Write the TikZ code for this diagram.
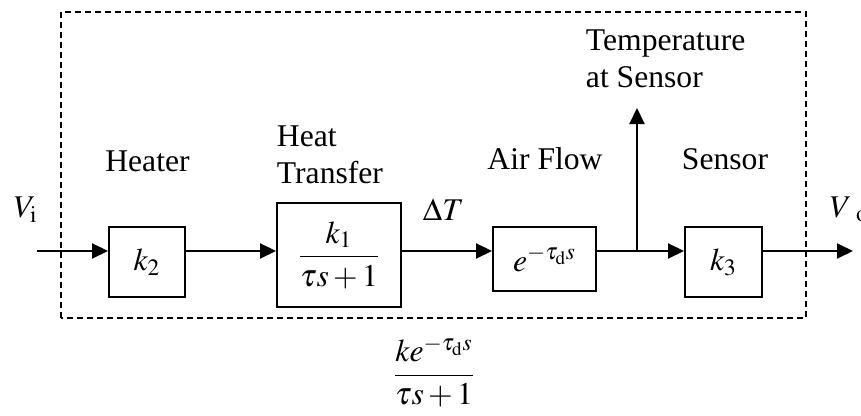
\documentclass[tikz,border=0pt]{standalone}
\usepackage{amsmath}
\usepackage{mathptmx}
\usepackage{fontspec}
\setmainfont{Liberation Serif}
\usetikzlibrary{arrows.meta, positioning, calc}
\definecolor{cline}{HTML}{000000}
\tikzset{
  every picture/.style={font=\fontsize{18}{21}\selectfont, line width=1.1pt},
  blk/.style={draw=cline, minimum width=#1, minimum height=1.4cm, inner sep=0pt},
  blk/.default=1.52cm,
  arrow/.style={-{Triangle[length=0.32cm, width=0.3cm]}, draw=cline, line width=1.1pt},
  wire/.style={draw=cline, line width=1.1pt},
  label/.style={anchor=base, inner sep=0pt},
  frame/.style={draw=cline, dash pattern=on 0.12cm off 0.08cm, line width=1.1pt},
}

\begin{document}
\begin{tikzpicture}
  \useasboundingbox (0,0) rectangle (17.22,8.3);
  % dashed outline of the plant
  \draw[frame] (1.22,1.94) rectangle (16.12,8.06);
  % blocks
  \node[blk] (heater) at (2.94,3.06) {$k_2$};
  \node[blk=2.48cm, minimum height=2.08cm] (transfer) at (6.78,3.2) {$\dfrac{k_1}{\tau s+1}$};
  \node[blk=2.06cm, minimum height=1.28cm] (airflow) at (10.89,3.12) {$e^{-\tau_{\mathrm{d}}s}$};
  \node[blk=1.54cm] (sensor) at (14.47,3.06) {$k_3$};
  \coordinate (vin) at (0.74,3.28);
  \coordinate (tap) at (12.74,3.28);
  \coordinate (tsens) at (12.74,6.14);
  \coordinate (vout) at (17.06,3.28);
  % labels
  \node[label] (lheater) at (2.95,4.88) {Heater};
  \node[label, anchor=base west] (lheat) at (5.52,5.38) {Heat};
  \node[label, anchor=base west] (ltransfer) at (5.52,4.64) {Transfer};
  \node[label] (lair) at (10.9,4.92) {Air Flow};
  \node[label] (lsensor) at (14.5,4.92) {Sensor};
  \node[label, anchor=base west] (ltemp) at (11.7,7.3) {Temperature};
  \node[label, anchor=base west] (lat) at (11.7,6.56) {at Sensor};
  \node[label, anchor=base west] (ldt) at (8.44,3.9) {$\Delta T$};
  \node[label, anchor=base west] (lvi) at (0.26,3.96) {$V_{\mathrm{i}}$};
  \node[label, anchor=base west] (lvo) at (16.58,3.96) {$V_{\hspace{0.2cm}\mathrm{o}}$};
  \node[inner sep=0pt] (total) at (8.68,0.86) {$\dfrac{ke^{-\tau_{\mathrm{d}}s}}{\tau s+1}$};
  % connectors
  \draw[arrow] (vin) -- (heater.west |- vin);
  \draw[arrow] (heater.east |- vin) -- (transfer.west |- vin);
  \draw[arrow] (transfer.east |- vin) -- (airflow.west |- vin);
  \draw[wire] (airflow.east |- vin) -- (tap);
  \draw[arrow] (tap) -- (sensor.west |- vin);
  \draw[arrow] (tap) -- (tsens);
  \draw[arrow] (sensor.east |- vin) -- (vout);
\end{tikzpicture}
\end{document}
